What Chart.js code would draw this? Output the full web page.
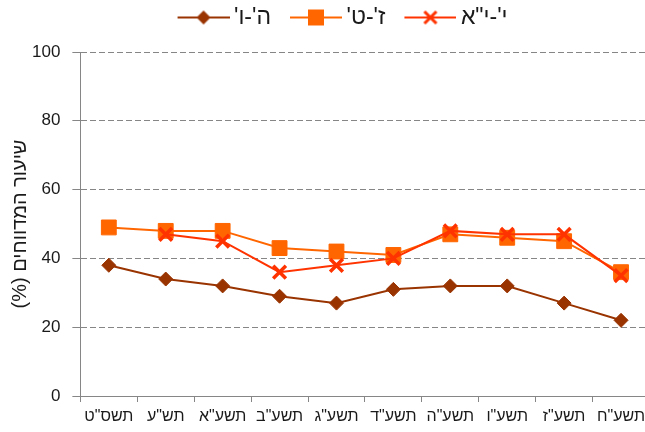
<!DOCTYPE html>
<html>
<head>
<meta charset="utf-8">
<script src="https://cdn.jsdelivr.net/npm/chart.js@4"></script>
<style>
html, body { margin: 0; padding: 0; background: #fff; overflow: hidden; }
</style>
</head>
<body>
<canvas id="chart" width="662" height="432"></canvas>
<script>
const RLM = '\u200F';

// data
const years = ['תשס"ט', 'תש"ע', 'תשע"א', 'תשע"ב', 'תשע"ג', 'תשע"ד', 'תשע"ה', 'תשע"ו', 'תשע"ז', 'תשע"ח'];
const grades5to6 = [38, 34, 32, 29, 27, 31, 32, 32, 27, 22];
const grades7to9 = [49, 48, 48, 43, 42, 41, 47, 46, 45, 36];
const grades10to11 = [null, 47, 45, 36, 38, 40, 48, 47, 47, 35];
const seriesNames = ["ה'-ו'", "ז'-ט'", 'י\'-י"א'];
const yTicks = [0, 20, 40, 60, 80, 100];
const yTitle = 'שיעור המדווחים (%)';

const BROWN = '#993300';
const ORANGE = '#FF6600';
const RED = '#FF3300';
const GRID = '#868686';
const TEXT = '#1a1a1a';
const FONT = "'Liberation Sans', Arial, sans-serif";

// legend icon: a line with the marker in the middle (drawn with a left margin)
function makeIcon(color, kind) {
    const c = document.createElement('canvas');
    c.width = 72;
    c.height = 20;
    const g = c.getContext('2d');
    const cx = 46;
    g.strokeStyle = color;
    g.fillStyle = color;
    g.lineWidth = 2;
    g.beginPath();
    g.moveTo(20, 10);
    g.lineTo(72, 10);
    g.stroke();
    if (kind === 'diamond') {
        g.beginPath();
        g.moveTo(cx, 3); g.lineTo(cx + 7, 10); g.lineTo(cx, 17); g.lineTo(cx - 7, 10);
        g.closePath();
        g.fill();
    } else if (kind === 'square') {
        g.fillRect(cx - 8, 2, 16, 16);
    } else {
        g.lineWidth = 3;
        g.beginPath();
        g.moveTo(cx - 6, 4); g.lineTo(cx + 6, 16);
        g.moveTo(cx + 6, 4); g.lineTo(cx - 6, 16);
        g.stroke();
    }
    return c;
}

const icons = [makeIcon(BROWN, 'diamond'), makeIcon(ORANGE, 'square'), makeIcon(RED, 'cross')];

// more room under the legend, and nudge it right a little
const legendSpacing = {
    id: 'legendSpacing',
    beforeLayout(chart) {
        const legend = chart.legend;
        if (legend && !legend._patched) {
            const fit = legend.fit;
            legend.fit = function () {
                fit.call(this);
                this.height += 13;
            };
            legend._patched = true;
        }
    },
    afterLayout(chart) {
        if (chart.legend) chart.legend.left += 14;
    }
};

const ctx = document.getElementById('chart').getContext('2d');
new Chart(ctx, {
    type: 'line',
    data: {
        labels: years,
        datasets: [
            {
                label: seriesNames[0] + RLM,
                data: grades5to6,
                borderColor: BROWN,
                backgroundColor: BROWN,
                borderWidth: 2,
                pointStyle: 'rectRot',
                pointRadius: 7,
                pointBorderWidth: 1,
                order: 2
            },
            {
                label: seriesNames[1] + RLM,
                data: grades7to9,
                borderColor: ORANGE,
                backgroundColor: ORANGE,
                borderWidth: 2,
                pointStyle: 'rect',
                pointRadius: 10.5,
                pointBorderWidth: 1,
                order: 1
            },
            {
                label: seriesNames[2] + RLM,
                data: grades10to11,
                borderColor: RED,
                backgroundColor: RED,
                borderWidth: 2,
                pointStyle: 'crossRot',
                pointRadius: 9,
                pointBorderWidth: 3.5,
                order: 0
            }
        ]
    },
    options: {
        responsive: false,
        animation: false,
        events: [],
        layout: { padding: { top: 0, right: 12, left: 8, bottom: 0 } },
        plugins: {
            tooltip: { enabled: false },
            legend: {
                position: 'top',
                labels: {
                    usePointStyle: true,
                    pointStyleWidth: 58,
                    color: TEXT,
                    font: { family: FONT, size: 23 },
                    padding: 6,
                    generateLabels: chart => chart.data.datasets.map((ds, i) => ({
                        text: ds.label,
                        pointStyle: icons[i],
                        fillStyle: ds.borderColor,
                        strokeStyle: ds.borderColor,
                        lineWidth: 0,
                        fontColor: TEXT,
                        hidden: false,
                        datasetIndex: i
                    }))
                }
            }
        },
        scales: {
            x: {
                offset: true,
                ticks: {
                    color: TEXT,
                    font: { family: FONT, size: 16, lineHeight: 0.75 },
                    maxRotation: 0,
                    autoSkip: false,
                    padding: 9
                },
                grid: {
                    offset: true,
                    drawOnChartArea: false,
                    color: GRID,
                    tickLength: 6
                },
                border: { color: GRID }
            },
            y: {
                min: 0,
                max: 100,
                afterBuildTicks: axis => { axis.ticks = yTicks.map(v => ({ value: v })); },
                ticks: {
                    color: TEXT,
                    font: { family: FONT, size: 17 },
                    padding: 12
                },
                grid: {
                    color: c => (c.tick && c.tick.value === 0) ? 'rgba(0,0,0,0)' : GRID,
                    tickColor: GRID,
                    tickLength: 8,
                    lineWidth: 1
                },
                border: { color: GRID, dash: [6, 3] },
                title: {
                    display: true,
                    text: yTitle + RLM,
                    color: TEXT,
                    font: { family: FONT, size: 20 },
                    padding: { top: 0, bottom: -12 }
                }
            }
        }
    },
    plugins: [legendSpacing]
});
</script>
</body>
</html>
